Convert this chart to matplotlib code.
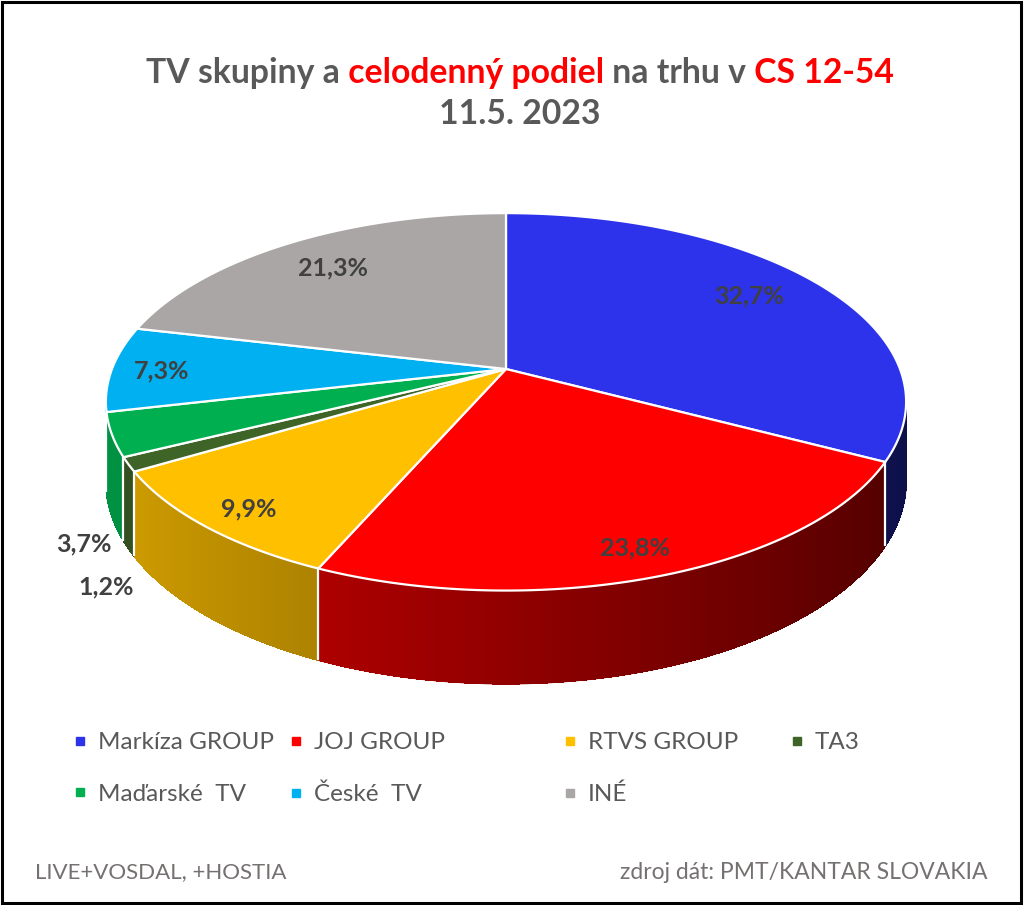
import numpy as np
import matplotlib
matplotlib.use("Agg")
import matplotlib.pyplot as plt
from matplotlib.patches import Polygon, Rectangle
from matplotlib.lines import Line2D
from matplotlib.collections import PolyCollection, LineCollection

plt.rcParams['font.family'] = ['Lato', 'DejaVu Sans']

# data
groups = ["Markíza GROUP", "JOJ GROUP", "RTVS GROUP", "TA3",
          "Maďarské  TV", "České  TV", "INÉ"]
shares = [32.7, 23.8, 9.9, 1.2, 3.7, 7.3, 21.3]
colors = ["#2D33EB", "#FF0000", "#FFC000", "#3F6428",
          "#00B050", "#00B0F0", "#AAA6A6"]

# label placement: radius on the disc and drop below top face (px)
label_r = [0.77, 0.855, 0.873, 1.054, 1.067, 0.874, 0.784]
label_h = [-5, 6, 4, 107, 98, 2, 1]

# legend columns (indexes into groups) and x of their markers
legend_cols = [[0, 4], [1, 5], [2, 6], [3]]
legend_x = [80, 296, 570, 797]

# pie geometry in pixels, simple perspective
CX, CY = 506, 369
SX, SY, K, DEPTH = 394, 183, 0.174, 77

GRAY = "#595959"
RED = "#FF0000"


def project(u, v, h=0.0):
    w = 1 - K * v
    return CX + SX * u / w, CY + (SY * v + h) / w


def disc(r, theta, h=0.0):
    t = np.radians(theta)
    return project(r * np.sin(t), -r * np.cos(t), h)


def shade(col, theta):
    f = 0.57 - 0.27 * np.sin(np.radians(theta))
    rgb = np.array(matplotlib.colors.to_rgb(col))
    return tuple(np.clip(rgb * f, 0, 1))


fig = plt.figure(figsize=(10.24, 9.05), dpi=100)
ax = fig.add_axes([0, 0, 1, 1])
ax.set_xlim(0, 1024)
ax.set_ylim(905, 0)
ax.axis("off")

total = sum(shares)
edges = np.concatenate([[0], np.cumsum(shares)]) / total * 360

# side wall, only the part facing the viewer
vis_lo = np.degrees(np.arccos(-K))
vis_hi = 360 - vis_lo
for i, col in enumerate(colors):
    a0, a1 = max(edges[i], vis_lo), min(edges[i + 1], vis_hi)
    if a1 <= a0:
        continue
    steps = np.linspace(a0, a1, max(int((a1 - a0) / 0.5), 2) + 1)
    quads, cols, rim = [], [], []
    for a, b in zip(steps[:-1], steps[1:]):
        quads.append([disc(1, a), disc(1, b), disc(1, b, DEPTH),
                      disc(1, a, DEPTH)])
        cols.append(shade(col, (a + b) / 2))
        rim.append([disc(1, a, DEPTH), disc(1, b, DEPTH)])
    ax.add_collection(PolyCollection(quads, facecolors=cols,
                                     edgecolors=cols, linewidths=0.5,
                                     antialiaseds=False))
    ax.add_collection(LineCollection(rim, colors=cols, linewidths=1.0))

for e in edges[1:-1]:
    if vis_lo < e < vis_hi:
        x0, y0 = disc(1, e)
        x1, y1 = disc(1, e, DEPTH)
        ax.plot([x0, x1], [y0, y1], color="white", lw=1.6,
                solid_capstyle="butt")

# top face wedges
for i, col in enumerate(colors):
    th = np.linspace(edges[i], edges[i + 1], 200)
    arc = [disc(1, t) for t in th]
    pts = [project(0, 0)] + arc
    ax.add_patch(Polygon(pts, closed=True, facecolor=col, edgecolor="white",
                         linewidth=1.6, joinstyle="round"))

# value labels
for i, s in enumerate(shares):
    mid = (edges[i] + edges[i + 1]) / 2
    x, y = disc(label_r[i], mid, label_h[i])
    ax.text(x, y, f"{s:.1f}".replace(".", ",") + "%", ha="center",
            va="center", fontsize=18, fontweight="bold", color="#404040")

# title in two colours
pieces = [("TV skupiny a", GRAY), (" celodenný podiel", RED),
          (" na trhu v", GRAY), (" CS 12-54", RED)]
first = ax.text(0, 83, pieces[0][0], color=pieces[0][1], fontsize=24.3,
                fontweight="bold", va="baseline", ha="left")
parts = [first]
prev = first
for txt, col in pieces[1:]:
    prev = ax.annotate(txt, xy=(1, 0), xycoords=prev, va="bottom",
                       ha="left", color=col, fontsize=24.3,
                       fontweight="bold")
    parts.append(prev)
renderer = fig.canvas.get_renderer()
x_left = parts[0].get_window_extent(renderer).x0
x_right = parts[-1].get_window_extent(renderer).x1
width = x_right - x_left
first.set_x(520 - width / 2)
ax.text(520, 124, "11.5. 2023", color=GRAY, fontsize=24.3,
        fontweight="bold", ha="center", va="baseline")

# legend, one small legend per column
leg_fs = 17.5
fs_px = leg_fs * 100 / 72
for cx, col_idx in zip(legend_x, legend_cols):
    handles = [Line2D([], [], marker="s", ls="", color=colors[j],
                      markersize=6) for j in col_idx]
    fig.legend(handles, [groups[j] for j in col_idx], loc="upper left",
               bbox_to_anchor=(cx - 0.8 * fs_px / 2, 732),
               bbox_transform=ax.transData, frameon=False, fontsize=leg_fs,
               handlelength=0.8, handletextpad=0.34, labelspacing=1.26,
               borderpad=0, borderaxespad=0, labelcolor=GRAY)

# footer
ax.text(35, 872, "LIVE+VOSDAL, +HOSTIA", color="#767171", fontsize=16,
        ha="left", va="center")
ax.text(988, 872, "zdroj dát: PMT/KANTAR SLOVAKIA", color="#767171",
        fontsize=16.5, ha="right", va="center")

# outer frame
fig.patches.append(Rectangle((0.0015, 0.002), 0.996, 0.996,
                             transform=fig.transFigure, fill=False,
                             edgecolor="black", linewidth=2.2))

fig.savefig("out.png", dpi=100)
